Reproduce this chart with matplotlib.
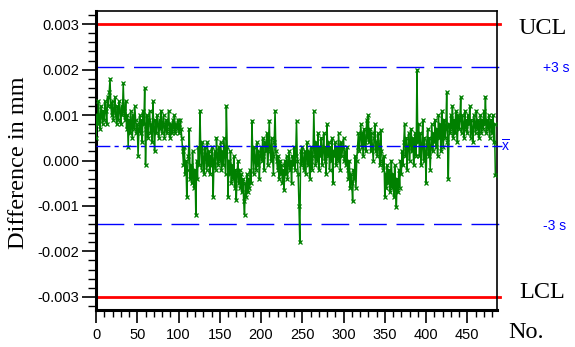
import matplotlib
matplotlib.use("Agg")
import matplotlib.pyplot as plt
import numpy as np
from matplotlib.ticker import MultipleLocator, FormatStrFormatter

# differences, in units of 1e-4 mm
DIFF_E4 = [
    5, 10, 8, 13, 9, 7, 12, 10, 8, 11,
    9, 13, 11, 8, 14, 12, 15, 18, 12, 10,
    13, 9, 11, 14, 10, 8, 12, 9, 13, 11,
    8, 12, 10, 17, 11, 9, 13, 7, 10, 3,
    9, 6, 11, 8, 5, 10, 7, 12, 9, 6,
    8, 1, 7, 10, 6, 9, 4, 11, 8, 16,
    -1, 7, 10, 5, 9, 11, 6, 8, 4, 13,
    7, 2, 9, 6, 10, 8, 5, 9, 7, 11,
    6, 8, 10, 5, 7, 9, 6, 8, 11, 7,
    5, 8, 6, 9, 7, 10, 6, 8, 7, 9,
    8, 6, 9, 7, 5, 2, -1, 3, -3, 0,
    -8, -2, 1, 7, -4, -1, -5, 2, -3, -6,
    -2, -12, 0, -4, 3, -1, 11, 2, -2, 4,
    0, -3, 3, 1, -2, 4, -1, 2, -3, 1,
    -1, 3, -8, 0, 2, -2, 5, 1, -1, 3,
    0, 4, -2, 2, -1, 5, 1, -3, 12, 3,
    -8, 0, -3, 2, -5, -1, -4, 1, -6, -2,
    -8.7, -3, 0, -5, -2, -6, -3, -7, -4, -9,
    -12, -5, -8, -3, -7, -4, -6, -2, -5, 8.8,
    1, -3, 3, 0, -2, 4, -1, 2, -4, 1,
    3, 0, 5, 1, -2, 4, 2, 6, -1, 3,
    8.8, 2, 0, 5, 1, -3, 4, 11, 2, 0,
    -2, 1, -4, 0, -3, -1, -5, -2, -6.5, 0,
    -3, 1, -4, -1, 2, -2, 0, -5, 1, -1,
    3, -2, 1, 8.8, 0, -3, -10, -18, 2, -1,
    3, 0, -2, 2, -3, 1, 4, -1, 2, -4,
    0, 3, -2, 1, 11, 2, -1, 4, 0, 6,
    -2, 3, 1, 5, -1, 2, 6, 0, 3, -3,
    8, 1, 4, -2, 3, 0, 5, -5, 2, 1,
    4, -1, 3, 0, 6, 2, -2, 4, 1, 3,
    5, 0, 2, -1, 3, -2, -4, 0, -6, -3,
    -5, -9, -2, -4, 1, -6, 0, 3, 6, 2,
    5, 8, 3, 6, 1, 7, 4, 2, 9, 5,
    10, 4, 7, 2, 6, 3, 0, 5, 8, 2,
    4, 1, 6, 3, -1, 6.7, 2, 0, -2, 1,
    -8, -3, -6, -1, -5, -2, -7, -4, 0, -6,
    -3, -8, -1, -5, -10.3, -4, -7, -2, -6, 0,
    -3, 2, -1, 4, 8, 1, 5, -2, 3, 6,
    0, 4, 7, 2, 5, -1, 3, 6, 1, 20,
    4, 8, 1, 6, -1, 3, 9, 0, 5, 2,
    -5, 4, 7, 1, 5, -2, 3, 8, 2, 6,
    4, 9, 3, 7, 1, 10, 5, 8, 2, 11,
    6, 3, 9, 5, 7, 15, 4, -4, 8, 6,
    10, 7, 12, 5, 9, 6, 11, 8, 4, 10,
    7, 9, 14, 6, 10, 8, 5, 11, 7, 9,
    6, 10, 8, 12, 5, 9, 7, 4, 10, 8,
    6, 11, 7, 9, 5, 8, 10, 6, 9, 7,
    11, 8, 14, 6, 9, 7, 10, 5, 8, 9,
    6, 10, 4, 8, -3.3,
]
UCL = 0.003
LCL = -0.003
MEAN = 0.00033
PLUS3S = 0.00206
MINUS3S = -0.00140

diff = np.array(DIFF_E4) * 1e-4
num = np.arange(len(diff))

fig = plt.figure(figsize=(5.75, 3.47), dpi=100)
ax = fig.add_axes([96 / 575, 1 - 310 / 347, 401 / 575, 299 / 347])

ax.plot(num, diff, color="#008000", lw=1.1, marker="x", ms=3.5, mew=0.9, zorder=3)

for y in (UCL, LCL):
    ax.axhline(y, color="#ff0000", lw=2.0, xmax=1.008, clip_on=False, zorder=2)
for y in (PLUS3S, MINUS3S):
    ax.axhline(y, color="#0000ff", lw=1.0, dashes=(20, 7), xmax=1.012,
               clip_on=False, zorder=2)
ax.axhline(MEAN, color="#0000ff", lw=1.0, dashes=(10, 3, 3, 3), xmax=1.012,
           clip_on=False, zorder=4)

ax.set_xlim(0, 486)
ax.set_ylim(-0.00329, 0.00329)
ax.xaxis.set_major_locator(MultipleLocator(50))
ax.xaxis.set_minor_locator(MultipleLocator(10))
ax.yaxis.set_major_locator(MultipleLocator(0.001))
ax.yaxis.set_minor_locator(MultipleLocator(0.0002))
ax.yaxis.set_major_formatter(FormatStrFormatter("%.3f"))

for lab in ax.get_xticklabels() + ax.get_yticklabels():
    lab.set_fontfamily("Liberation Sans")
    lab.set_fontsize(10.5)
ax.tick_params(axis="y", which="major", direction="out", length=10, width=1.2, pad=2)
ax.tick_params(axis="y", which="minor", direction="out", length=6, width=1.0)
ax.tick_params(axis="x", which="major", direction="out", length=9, width=1.2, pad=4)
ax.tick_params(axis="x", which="minor", direction="out", length=5, width=1.0)

for side in ("left", "bottom"):
    ax.spines[side].set_linewidth(2.2)
for side in ("top", "right"):
    ax.spines[side].set_linewidth(1.2)

serif = {"family": "Liberation Serif", "size": 17.5}
fig.text(19 / 575, 1 - 163 / 347, "Difference in mm", rotation=90,
         ha="center", va="center", **serif)
fig.text(519 / 575, 1 - 28 / 347, "UCL", ha="left", va="center", **serif)
fig.text(519 / 575, 1 - 293 / 347, "LCL", ha="left", va="center", **serif)
fig.text(508 / 575, 1 - 333 / 347, "No.", ha="left", va="center", **serif)

blue = {"family": "Liberation Sans", "size": 10, "color": "#0000ff"}
fig.text(543 / 575, 1 - 68 / 347, "+3 s", ha="left", va="center", **blue)
fig.text(543 / 575, 1 - 226 / 347, "-3 s", ha="left", va="center", **blue)
fig.text(501 / 575, 1 - 146 / 347, r"$\overline{\mathregular{x}}$",
         ha="left", va="center", **blue)

fig.savefig("out.png", dpi=100)
